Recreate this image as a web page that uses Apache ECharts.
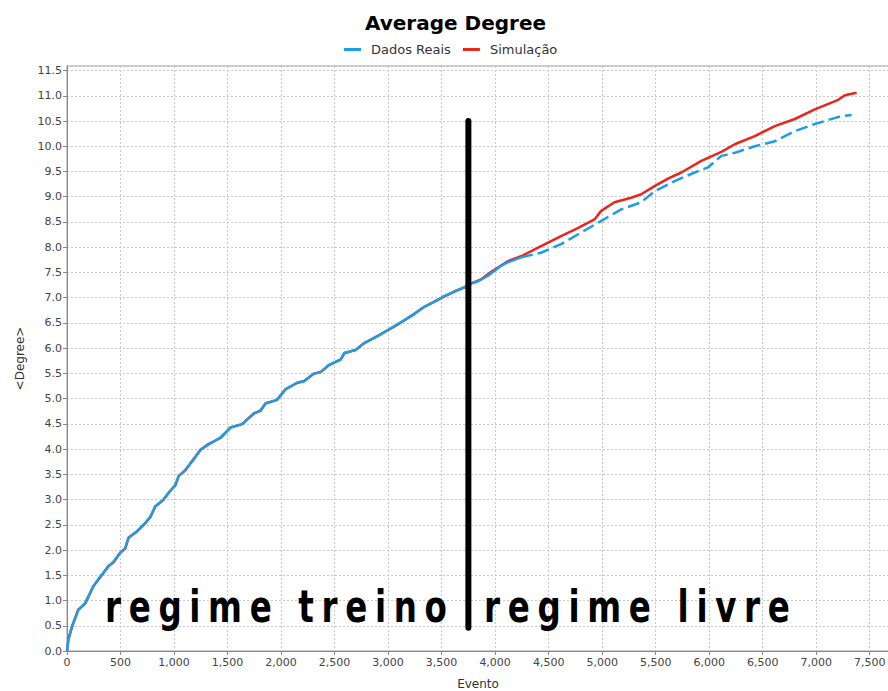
<!DOCTYPE html>
<html>
<head>
<meta charset="utf-8">
<script src="https://cdn.jsdelivr.net/npm/echarts@6/dist/echarts.min.js"></script>
<style>
html,body{margin:0;padding:0;background:#fff;}
#c{width:888px;height:691px;}
</style>
</head>
<body>
<div id="c"></div>
<script>
// Dados Reais (training regime + free regime)
var realTrainX = [0,12,44,106,169,246,309,387,434,496,543,574,652,730,777,824,902,949,1011,1042,1105,1183,1245,1323,1433,1526,1636,1745,1807,1854,1963,2041,2151,2213,2306,2369,2447,2556,2594,2697,2774,2931,3087,3242,3336,3446,3524,3633,3711,3773,3836,3930,3992,4054,4117,4242];
var realTrainY = [0,0.22,0.48,0.81,0.95,1.28,1.47,1.67,1.77,1.94,2.04,2.24,2.37,2.53,2.66,2.86,3.00,3.13,3.29,3.46,3.59,3.79,3.99,4.09,4.23,4.42,4.50,4.70,4.77,4.90,4.98,5.18,5.32,5.34,5.50,5.52,5.67,5.77,5.91,5.96,6.10,6.27,6.47,6.67,6.82,6.93,7.03,7.13,7.21,7.28,7.32,7.43,7.53,7.63,7.70,7.80];
var realFreeX = [4242,4429,4616,4803,4991,5178,5365,5490,5677,5864,5989,6114,6239,6426,6613,6800,6987,7238,7331];
var realFreeY = [7.80,7.89,8.06,8.29,8.52,8.75,8.89,9.11,9.31,9.48,9.58,9.81,9.87,10.00,10.10,10.30,10.44,10.60,10.62];
// Simulação
var simX = [0,14,46,104,171,248,311,385,436,498,545,576,650,732,779,826,900,951,1013,1044,1107,1181,1247,1321,1435,1528,1634,1747,1809,1856,1961,2043,2149,2215,2304,2371,2445,2558,2592,2699,2772,2933,3085,3244,3334,3448,3522,3635,3711,3773,3867,3961,4117,4242,4429,4616,4772,4928,4991,5115,5271,5365,5490,5615,5739,5927,6114,6239,6426,6613,6800,6987,7206,7268,7378];
var simY = [0,0.24,0.47,0.82,0.94,1.29,1.46,1.68,1.76,1.95,2.03,2.25,2.36,2.54,2.65,2.87,2.99,3.14,3.28,3.47,3.58,3.80,3.98,4.10,4.22,4.43,4.49,4.71,4.76,4.91,4.97,5.19,5.31,5.35,5.49,5.53,5.66,5.78,5.90,5.97,6.09,6.28,6.46,6.68,6.81,6.94,7.02,7.14,7.20,7.28,7.36,7.51,7.72,7.82,8.02,8.22,8.38,8.55,8.72,8.89,8.98,9.05,9.21,9.36,9.48,9.71,9.89,10.04,10.20,10.40,10.54,10.73,10.92,11.01,11.06];
// regime separator
var sepX = [3750,3750];
var sepY = [0.46,10.5];
var seriesNames = ['Dados Reais','Simulação'];
var regimeLabels = ['regime treino','regime livre'];

function zip(xs, ys){ return xs.map(function(x,i){ return [x, ys[i]]; }); }

var FONT = '"DejaVu Sans", sans-serif';
var BIGFONT = 'bold 44px "DejaVu Sans", sans-serif';
var BLUE = '#1C9DE6', RED = '#E8261C';
var regimeLeft = [105, 484];
var regimeSpan = [342, 306];
var regimeScale = 0.74;

// letter spacing (in local, unscaled units) so each label spans the reference width
var mctx = document.createElement('canvas').getContext('2d');
mctx.font = BIGFONT;
var regimeLS = regimeLabels.map(function(t,i){
  var w = mctx.measureText(t).width;
  return Math.max(0, (regimeSpan[i] / regimeScale - w) / (t.length - 1));
});

var chart = echarts.init(document.getElementById('c'), null, {renderer:'svg'});
chart.setOption({
  animation:false,
  backgroundColor:'#fff',
  title:{text:'Average Degree',left:360,top:8,textStyle:{fontFamily:FONT,fontWeight:'bold',fontSize:20,color:'#000'}},
  legend:{data:seriesNames,top:38,left:339,icon:'rect',itemWidth:17,itemHeight:3,itemGap:12,
    textStyle:{fontFamily:FONT,fontSize:13,color:'#333',padding:[0,0,0,5]}},
  grid:{left:67,right:-1,top:66,bottom:40,outerBoundsMode:'none',containLabel:false,show:true,borderColor:'#9a9a9a',borderWidth:1,backgroundColor:'#fff'},
  xAxis:{type:'value',min:0,max:7680,interval:500,name:'Evento',nameLocation:'middle',nameGap:27,
    nameTextStyle:{fontFamily:FONT,fontSize:12,color:'#333'},
    axisLine:{lineStyle:{color:'#8a8a8a'}},axisTick:{show:true,length:4,lineStyle:{color:'#8a8a8a'}},
    axisLabel:{fontFamily:FONT,fontSize:11,color:'#444',margin:6,showMaxLabel:false,
      formatter:function(v){return v.toLocaleString('en-US');}},
    splitLine:{show:true,lineStyle:{color:'#c8c8c8',type:[2,2],width:1}}},
  yAxis:{type:'value',min:0,max:11.59,interval:0.5,name:'<Degree>',nameLocation:'middle',nameGap:41,
    nameTextStyle:{fontFamily:FONT,fontSize:12,color:'#333'},
    axisLine:{show:true,lineStyle:{color:'#8a8a8a'}},axisTick:{show:true,length:4,lineStyle:{color:'#8a8a8a'}},
    axisLabel:{fontFamily:FONT,fontSize:11,color:'#444',margin:5,showMaxLabel:false,
      formatter:function(v){return v.toFixed(1);}},
    splitLine:{show:true,lineStyle:{color:'#c8c8c8',type:[2,2],width:1}}},
  series:[
    {name:seriesNames[1],type:'line',data:zip(simX,simY),showSymbol:false,symbol:'none',z:3,
      lineStyle:{color:RED,width:2.5},itemStyle:{color:RED}},
    {name:seriesNames[0],type:'line',data:zip(realTrainX,realTrainY),showSymbol:false,symbol:'none',z:4,
      lineStyle:{color:BLUE,width:2.5},itemStyle:{color:BLUE}},
    {name:seriesNames[0],type:'line',data:zip(realFreeX,realFreeY),showSymbol:false,symbol:'none',z:4,
      lineStyle:{color:BLUE,width:2.5,type:[12,5]},itemStyle:{color:BLUE}},
    {name:'sep',type:'line',data:zip(sepX,sepY),showSymbol:false,symbol:'none',z:6,silent:true,
      lineStyle:{color:'#000',width:6,cap:'round'}}
  ],
  graphic:[
    {type:'text',x:regimeLeft[0],y:585,scaleX:regimeScale,z:10,silent:true,style:{text:regimeLabels[0],fill:'#000',font:BIGFONT,align:'left',verticalAlign:'top'}},
    {type:'text',x:regimeLeft[1],y:585,scaleX:regimeScale,z:10,silent:true,style:{text:regimeLabels[1],fill:'#000',font:BIGFONT,align:'left',verticalAlign:'top'}}
  ]
});

function spaceLetters(){
  var texts = document.querySelectorAll('#c svg text');
  texts.forEach(function(el){
    var i = regimeLabels.indexOf(el.textContent);
    if (i >= 0) {
      el.setAttribute('letter-spacing', regimeLS[i].toFixed(2) + 'px');
      el.style.letterSpacing = regimeLS[i].toFixed(2) + 'px';
    }
  });
}
spaceLetters();
chart.on('finished', spaceLetters);
setTimeout(spaceLetters, 0);
setTimeout(spaceLetters, 100);
</script>
</body>
</html>
